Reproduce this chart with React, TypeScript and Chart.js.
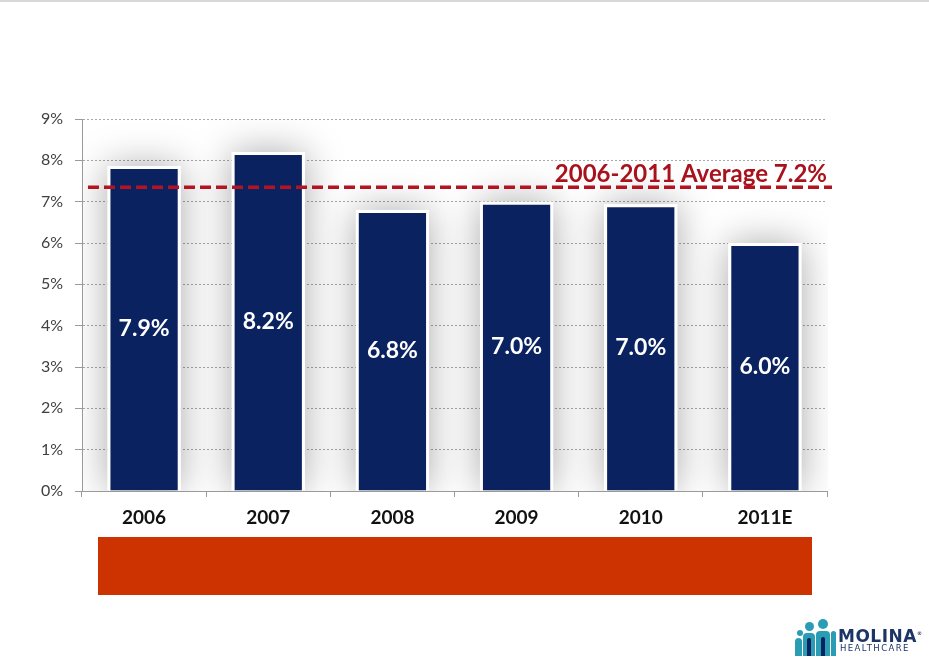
import { useEffect, useRef } from "react";
import { Chart, registerables } from "chart.js";
import type { Plugin } from "chart.js";

Chart.register(...registerables);

const years = ["2006", "2007", "2008", "2009", "2010", "2011E"];
const marginPct = [7.86, 8.2, 6.8, 7.0, 6.94, 6.0];
const barLabels = ["7.9%", "8.2%", "6.8%", "7.0%", "7.0%", "6.0%"];
const yMin = 0;
const yMax = 9;
const yStep = 1;
const averagePct = 7.35;
const averageLabel = "2006-2011 Average 7.2%";

const NAVY = "#0b2260";
const AVG_RED = "#b3141f";
const AXIS_GREY = "#9a9a9a";

// soft grey halo behind each bar, like the slide's shadow effect
const barShadow: Plugin<"bar"> = {
  id: "barShadow",
  beforeDatasetsDraw(chart) {
    const { ctx, chartArea } = chart;
    const meta = chart.getDatasetMeta(0);
    ctx.save();
    ctx.beginPath();
    ctx.rect(chartArea.left + 1, chartArea.top, chartArea.width, chartArea.height);
    ctx.clip();
    ctx.shadowColor = "rgba(0,0,0,0.34)";
    ctx.shadowBlur = 38;
    ctx.fillStyle = "#ffffff";
    meta.data.forEach((bar) => {
      const { x, y, base, width } = bar.getProps(["x", "y", "base", "width"], true) as any;
      ctx.fillRect(x - width / 2, y, width, base - y);
    });
    ctx.restore();
  },
};

const barValueLabels: Plugin<"bar"> = {
  id: "barValueLabels",
  afterDatasetsDraw(chart) {
    const { ctx } = chart;
    const meta = chart.getDatasetMeta(0);
    ctx.save();
    ctx.fillStyle = "#ffffff";
    ctx.font = "bold 23px Lato";
    ctx.textAlign = "center";
    ctx.textBaseline = "middle";
    meta.data.forEach((bar, i) => {
      const { x, y, base } = bar.getProps(["x", "y", "base"], true) as any;
      ctx.fillText(barLabels[i], x, (y + base) / 2);
    });
    ctx.restore();
  },
};

const averageLine: Plugin<"bar"> = {
  id: "averageLine",
  afterDatasetsDraw(chart) {
    const { ctx, chartArea, scales } = chart;
    const y = scales.y.getPixelForValue(averagePct);
    ctx.save();
    ctx.strokeStyle = AVG_RED;
    ctx.lineWidth = 3.5;
    ctx.setLineDash([11, 5]);
    ctx.beginPath();
    ctx.moveTo(chartArea.left + 6, y);
    ctx.lineTo(chartArea.right + 5, y);
    ctx.stroke();
    ctx.setLineDash([]);
    ctx.fillStyle = "#a8121c";
    ctx.font = "bold 24px Lato";
    ctx.textAlign = "right";
    ctx.textBaseline = "alphabetic";
    ctx.fillText(averageLabel, chartArea.right, y - 5);
    ctx.restore();
  },
};

function MolinaLogo() {
  const teal = "#2a9cb3";
  const head = (left: number, top: number, size: number) => (
    <div
      style={{
        position: "absolute",
        left,
        top,
        width: size,
        height: size,
        borderRadius: "50%",
        background: teal,
      }}
    />
  );
  const body = (left: number, top: number, width: number, height: number, color: string) => (
    <div
      style={{
        position: "absolute",
        left,
        top,
        width,
        height,
        background: color,
        borderTopLeftRadius: 4,
        borderTopRightRadius: 4,
      }}
    />
  );
  return (
    <div style={{ position: "absolute", left: 790, top: 612, width: 139, height: 45 }}>
      {head(7, 18, 6)}
      {head(15, 10, 9)}
      {head(28, 7, 10)}
      {body(5, 26, 7, 18, teal)}
      {body(13, 21, 12, 23, teal)}
      {body(17, 26, 4, 18, NAVY)}
      {body(26, 19, 14, 25, teal)}
      {body(31, 25, 4, 19, NAVY)}
      {body(41, 19, 5, 25, teal)}
      <div
        style={{
          position: "absolute",
          left: 48,
          top: 12,
          fontFamily: "'DejaVu Sans'",
          fontWeight: "bold",
          fontSize: 17,
          letterSpacing: 0.5,
          color: "#1d3566",
          lineHeight: "18px",
        }}
      >
        MOLINA<sup style={{ fontSize: 5 }}>®</sup>
      </div>
      <div
        style={{
          position: "absolute",
          left: 50,
          top: 31,
          fontFamily: "'DejaVu Sans'",
          fontSize: 8.5,
          letterSpacing: 1.4,
          color: "#1d3566",
          lineHeight: "10px",
        }}
      >
        HEALTHCARE
      </div>
    </div>
  );
}

export default function App() {
  const canvasRef = useRef<HTMLCanvasElement>(null);
  const chartRef = useRef<Chart<"bar"> | null>(null);

  useEffect(() => {
    if (!canvasRef.current) return;
    const ctx = canvasRef.current.getContext("2d");
    if (!ctx) return;

    if (chartRef.current) {
      chartRef.current.destroy();
      chartRef.current = null;
    }

    chartRef.current = new Chart(ctx, {
      type: "bar",
      data: {
        labels: years,
        datasets: [
          {
            data: marginPct,
            backgroundColor: NAVY,
            borderColor: "#ffffff",
            borderWidth: 3,
            barPercentage: 0.59,
            categoryPercentage: 1,
          },
        ],
      },
      options: {
        responsive: true,
        maintainAspectRatio: false,
        animation: false,
        layout: { padding: { top: 119, right: 102, left: 0, bottom: 0 } },
        plugins: {
          legend: { display: false },
          tooltip: { enabled: false },
        },
        scales: {
          x: {
            afterFit: (scale) => {
              scale.height = 166;
            },
            grid: {
              drawOnChartArea: false,
              drawTicks: true,
              tickLength: 6,
              color: AXIS_GREY,
            },
            border: { display: true, color: AXIS_GREY, width: 1 },
            ticks: {
              color: "#111111",
              font: { family: "Lato", size: 19, weight: "bold" },
              padding: 9,
            },
          },
          y: {
            min: yMin,
            max: yMax,
            afterFit: (scale) => {
              scale.width = 82;
            },
            grid: {
              color: "#a8a8a8",
              lineWidth: 1,
              tickLength: 7,
              tickColor: AXIS_GREY,
              tickBorderDash: [],
            },
            border: { display: true, color: AXIS_GREY, width: 1, dash: [2, 2] },
            ticks: {
              stepSize: yStep,
              color: "#404040",
              font: { family: "Lato", size: 16 },
              padding: 12,
              callback: (v) => `${v}%`,
            },
          },
        },
      },
      plugins: [barShadow, barValueLabels, averageLine],
    });

    return () => {
      if (chartRef.current) {
        chartRef.current.destroy();
        chartRef.current = null;
      }
    };
  }, []);

  return (
    <div
      style={{
        position: "absolute",
        left: 0,
        top: 0,
        width: 929,
        height: 657,
        background: "#ffffff",
        overflow: "hidden",
      }}
    >
      <div
        style={{
          position: "absolute",
          left: 0,
          top: 0,
          width: 929,
          height: 2,
          background: "#d8d8d8",
        }}
      />
      <div style={{ position: "absolute", left: 0, top: 0, width: 929, height: 657 }}>
        <canvas ref={canvasRef}></canvas>
      </div>
      <div
        style={{
          position: "absolute",
          left: 98,
          top: 537,
          width: 714,
          height: 58,
          background: "#cc3300",
        }}
      />
      <MolinaLogo />
    </div>
  );
}
